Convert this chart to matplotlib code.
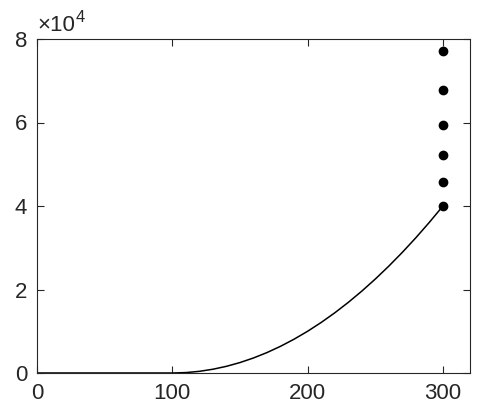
import matplotlib
matplotlib.use("Agg")
import matplotlib.pyplot as plt
from matplotlib.ticker import FuncFormatter

plt.rcParams['font.family'] = ['Liberation Sans', 'DejaVu Sans']

# Curve
curve_x = [0, 50, 100, 110, 120, 130, 140, 150, 160, 170, 180, 190, 200,
           210, 220, 230, 240, 250, 260, 270, 280, 290, 300]
curve_y = [0, 0, 0, 100, 400, 900, 1600, 2500, 3600, 4900, 6400, 8100, 10000,
           12100, 14400, 16900, 19600, 22500, 25600, 28900, 32400, 36100, 40000]

# Points at x = 300
pts_x = [300, 300, 300, 300, 300, 300]
pts_y = [40100, 45700, 52100, 59400, 67700, 77200]

xticks = [0, 100, 200, 300]
yticks = [0, 20000, 40000, 60000, 80000]

fig = plt.figure(figsize=(4.86, 4.12), dpi=100)
ax = fig.add_axes([37/486, 1-373/412, (470-37)/486, (373-39)/412])

ax.plot(curve_x, curve_y, color='black', lw=1.1)
ax.plot(pts_x, pts_y, 'o', color='black', markersize=6)

ax.set_xlim(0, 320)
ax.set_ylim(0, 80000)
ax.set_xticks(xticks)
ax.set_yticks(yticks)
ax.yaxis.set_major_formatter(FuncFormatter(lambda v, p: f"{v/1e4:g}"))

gray = '#262626'
for s in ax.spines.values():
    s.set_color(gray)
    s.set_linewidth(0.8)
ax.tick_params(direction='in', length=5, width=0.8, colors=gray,
               top=True, right=True, labelsize=16)
ax.tick_params(axis='x', pad=7)
ax.tick_params(axis='y', pad=7)
for lab in ax.get_xticklabels() + ax.get_yticklabels():
    lab.set_color(gray)

t1 = fig.text(37/486, 1-31/412, "×10", fontsize=16, color=gray,
              ha='left', va='baseline')
fig.canvas.draw()
bb = t1.get_window_extent()
fig.text((bb.x1 + 1)/486, 1-22/412, "4", fontsize=12, color=gray,
         ha='left', va='baseline')

fig.savefig("out.png", dpi=100)
